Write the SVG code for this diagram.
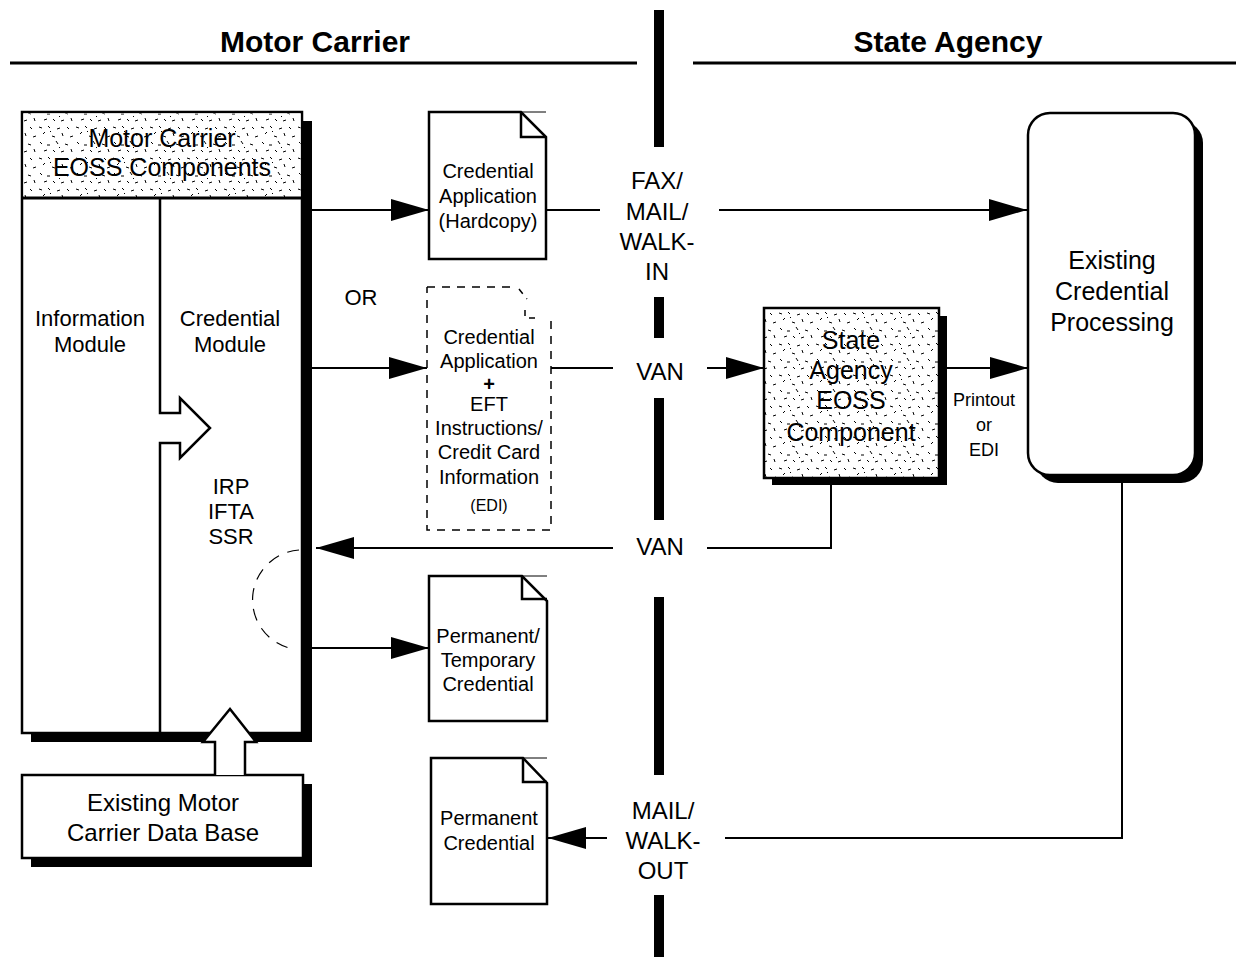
<svg xmlns="http://www.w3.org/2000/svg" width="1236" height="957" viewBox="0 0 1236 957">
<style>
text{font-family:"Liberation Sans",Arial,sans-serif;fill:#000;text-anchor:middle}
.h{font-size:30px;font-weight:bold}
.m{font-size:22px}
.d{font-size:20px}
.l{font-size:24px}
.b{font-size:25px}
.s{font-size:18px}
.box{fill:#fff;stroke:#000;stroke-width:2.5}
.sh{fill:#000}
.doc{fill:#fff;stroke:#000;stroke-width:2.5}
.fold{fill:none;stroke:#000;stroke-width:2.5}
.dash{fill:none;stroke:#000;stroke-width:1.5;stroke-dasharray:8 7}
.c{fill:none;stroke:#000;stroke-width:2}
.ar{marker-end:url(#ah)}
.div{fill:none;stroke:#000;stroke-width:10}
.hollow{fill:#fff;stroke:#000;stroke-width:2.5}
</style>
<defs>
<marker id="ah" markerUnits="userSpaceOnUse" markerWidth="38" markerHeight="22" refX="38" refY="11" orient="auto">
<path d="M0,0 L38,11 L0,22 Z" fill="#000"/>
</marker>
<pattern id="stip" patternUnits="userSpaceOnUse" width="37" height="31">
<rect width="37" height="31" fill="#fff"/>
<g stroke="#000" stroke-width="1" fill="none">
<path d="M2,3 l3,1 M11,2 l2,2 M20,5 l3,-1 M30,3 l2,2 M6,10 l2,-2 M15,12 l3,1 M25,9 l1,3 M33,13 l3,-1 M3,18 l2,2 M10,21 l3,0 M19,17 l2,3 M28,20 l3,1 M7,27 l3,-1 M16,26 l2,2 M24,28 l3,-1 M34,25 l1,3 M13,7 l1,1 M22,23 l1,1"/>
</g>
</pattern>
</defs>

<g id="headings">
<text class="h" x="315" y="52">Motor Carrier</text>
<text class="h" x="948" y="52">State Agency</text>
<line x1="10" y1="63" x2="637" y2="63" stroke="#000" stroke-width="3"/>
<line x1="693" y1="63" x2="1236" y2="63" stroke="#000" stroke-width="3"/>
</g>

<g id="divider">
<path class="div" d="M659,10 V147 M659,297 V338 M659,398 V520 M659,597 V775 M659,895 V957"/>
</g>

<g id="motor-carrier-eoss">
<rect class="sh" x="31" y="121" width="281" height="621"/>
<rect class="box" x="22" y="112" width="280" height="621"/>
<rect x="23.5" y="113.5" width="277" height="84" fill="url(#stip)"/>
<line x1="22" y1="198" x2="302" y2="198" stroke="#000" stroke-width="3"/>
<path class="hollow" d="M160,198 V413 H180 V398 L210,428 L180,458 V443 H160 V733"/>
<text class="b" x="162" y="147">Motor Carrier</text>
<text class="b" x="162" y="176">EOSS Components</text>
<text class="m" x="90" y="326">Information</text>
<text class="m" x="90" y="352">Module</text>
<text class="m" x="230" y="326">Credential</text>
<text class="m" x="230" y="352">Module</text>
<text class="m" x="231" y="494">IRP</text>
<text class="m" x="231" y="519">IFTA</text>
<text class="m" x="231" y="544">SSR</text>
</g>

<g id="data-base">
<rect class="sh" x="31" y="784" width="281" height="83"/>
<rect class="box" x="22" y="775" width="281" height="83"/>
<text class="l" x="163" y="811">Existing Motor</text>
<text class="l" x="163" y="841">Carrier Data Base</text>
<path class="hollow" d="M215,775 V742 H203 L230,709 L256,742 H245 V775"/>
</g>

<g id="doc-hardcopy">
<path class="doc" d="M429,112 H521 L546,137 V259 H429 Z"/>
<path class="fold" d="M521,112 V137 H546"/>
<line x1="521" y1="112" x2="546" y2="112" stroke="#000" stroke-width="1"/>
<text class="d" x="488" y="178">Credential</text>
<text class="d" x="488" y="203">Application</text>
<text class="d" x="488" y="228">(Hardcopy)</text>
</g>

<g id="doc-edi">
<path class="dash" d="M427,287 H517 M551,321 V530 H427 V287"/>
<path class="dash" d="M519,289 L527,299 M525,310 V318 H541" style="stroke-dasharray:6 6"/>
<text class="d" x="489" y="344">Credential</text>
<text class="d" x="489" y="368">Application</text>
<text class="d" x="489" y="391" style="font-weight:bold">+</text>
<text class="d" x="489" y="411">EFT</text>
<text class="d" x="489" y="435">Instructions/</text>
<text class="d" x="489" y="459">Credit Card</text>
<text class="d" x="489" y="484">Information</text>
<text x="489" y="511" style="font-size:16px">(EDI)</text>
</g>

<g id="doc-perm-temp">
<path class="doc" d="M429,576 H522 L547,601 V721 H429 Z"/>
<path class="fold" d="M522,576 V599 H547"/>
<line x1="522" y1="576" x2="547" y2="576" stroke="#000" stroke-width="1"/>
<text class="d" x="488" y="643">Permanent/</text>
<text class="d" x="488" y="667">Temporary</text>
<text class="d" x="488" y="691">Credential</text>
</g>

<g id="doc-permanent">
<path class="doc" d="M431,758 H523 L547,783 V904 H431 Z"/>
<path class="fold" d="M523,758 V782 H547"/>
<line x1="523" y1="758" x2="547" y2="758" stroke="#000" stroke-width="1"/>
<text class="d" x="489" y="825">Permanent</text>
<text class="d" x="489" y="850">Credential</text>
</g>

<g id="state-eoss">
<rect class="sh" x="772" y="316" width="175" height="169"/>
<rect class="box" x="764" y="308" width="175" height="170" style="fill:url(#stip)"/>
<text class="b" x="851" y="349">State</text>
<text class="b" x="851" y="379">Agency</text>
<text class="b" x="851" y="409">EOSS</text>
<text class="b" x="851" y="441">Component</text>
</g>

<g id="processing">
<rect class="sh" x="1036" y="121" width="167" height="362" rx="22"/>
<rect class="box" x="1028" y="113" width="167" height="362" rx="22"/>
<text class="b" x="1112" y="269">Existing</text>
<text class="b" x="1112" y="300">Credential</text>
<text class="b" x="1112" y="331">Processing</text>
</g>

<g id="connectors">
<path class="c ar" d="M312,210 H429"/>
<path class="c" d="M546,210 H600"/>
<path class="c ar" d="M719,210 H1027"/>
<path class="c ar" d="M312,368 H427"/>
<path class="c" d="M551,368 H613"/>
<path class="c ar" d="M707,368 H764"/>
<path class="c ar" d="M947,368 H1028"/>
<path class="c" d="M831,485 V548 H707"/>
<path class="c ar" d="M613,548 H316"/>
<path class="c ar" d="M312,648 H429"/>
<path class="c" d="M1122,483 V838 H725"/>
<path class="c ar" d="M607,838 H548"/>
<path d="M299,550 A50,50 0 0 0 289,648" fill="none" stroke="#000" stroke-width="1.2" stroke-dasharray="12 9"/>
</g>

<g id="labels">
<text class="m" x="361" y="305">OR</text>
<text class="l" x="657" y="189">FAX/</text>
<text class="l" x="657" y="220">MAIL/</text>
<text class="l" x="657" y="250">WALK-</text>
<text class="l" x="657" y="280">IN</text>
<text class="l" x="660" y="380">VAN</text>
<text class="l" x="660" y="555">VAN</text>
<text class="s" x="984" y="406">Printout</text>
<text class="s" x="984" y="431">or</text>
<text class="s" x="984" y="456">EDI</text>
<text class="l" x="663" y="819">MAIL/</text>
<text class="l" x="663" y="849">WALK-</text>
<text class="l" x="663" y="879">OUT</text>
</g>
</svg>
